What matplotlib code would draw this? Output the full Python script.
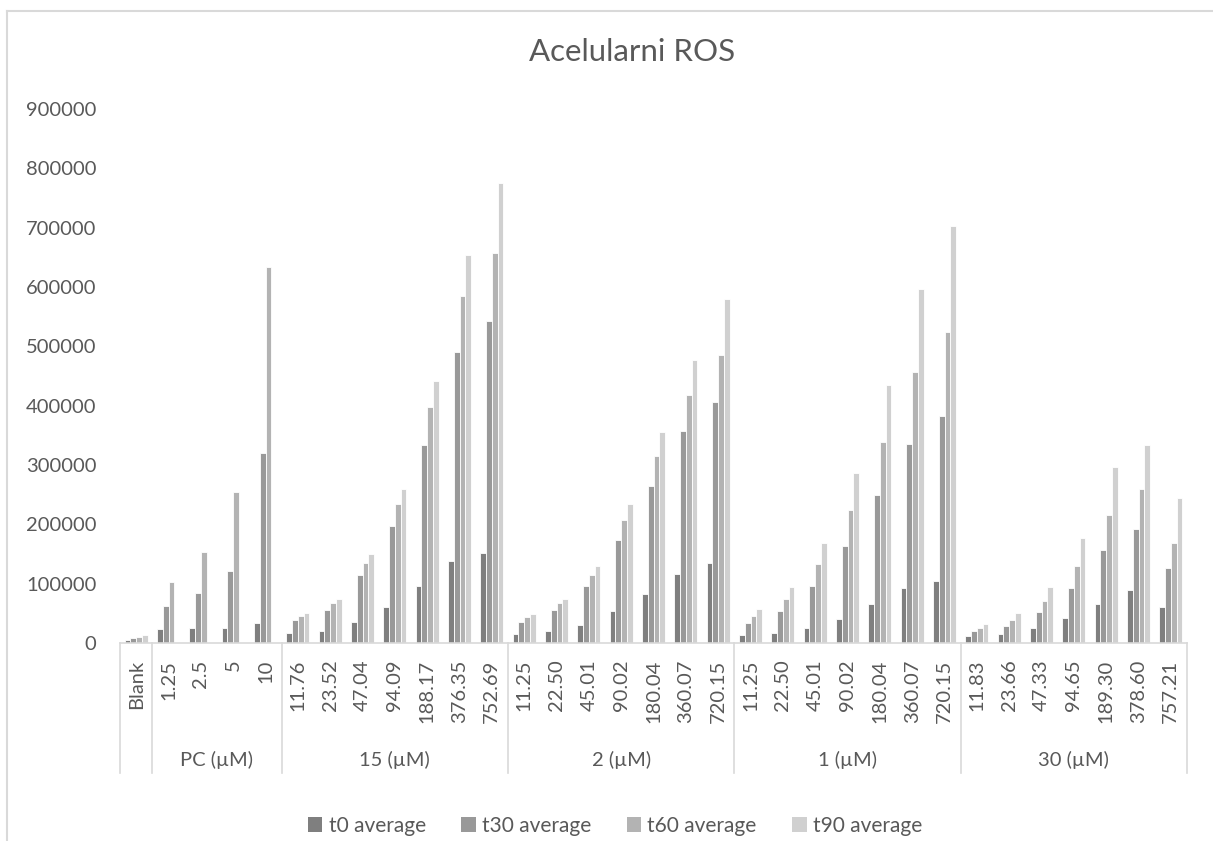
import numpy as np
import matplotlib
matplotlib.use("Agg")
import matplotlib.pyplot as plt
from matplotlib.lines import Line2D
from matplotlib.patches import Patch
import matplotlib.transforms as mtransforms

plt.rcParams['font.family'] = ['Lato', 'DejaVu Sans']

# ---------------- data ----------------
groups = ["", "PC (\u00b5M)", "15 (\u00b5M)", "2 (\u00b5M)", "1 (\u00b5M)", "30 (\u00b5M)"]
group_sizes = [1, 4, 7, 7, 7, 7]
categories = ["Blank",
              "1.25", "2.5", "5", "10",
              "11.76", "23.52", "47.04", "94.09", "188.17", "376.35", "752.69",
              "11.25", "22.50", "45.01", "90.02", "180.04", "360.07", "720.15",
              "11.25", "22.50", "45.01", "90.02", "180.04", "360.07", "720.15",
              "11.83", "23.66", "47.33", "94.65", "189.30", "378.60", "757.21"]
series_names = ["t0 average", "t30 average", "t60 average", "t90 average"]
t0 = [5000,
      23000, 25000, 25000, 34000,
      17000, 20000, 36000, 60000, 96000, 138000, 151000,
      16000, 21000, 31000, 54000, 82000, 117000, 134000,
      13000, 17000, 26000, 41000, 65000, 93000, 104000,
      12000, 16000, 25000, 42000, 66000, 90000, 60000]
t30 = [8000,
       62000, 84000, 121000, 320000,
       38000, 56000, 114000, 198000, 333000, 490000, 543000,
       36000, 55000, 96000, 174000, 265000, 357000, 407000,
       34000, 54000, 96000, 163000, 249000, 335000, 383000,
       20000, 28000, 52000, 93000, 156000, 192000, 126000]
t60 = [10000,
       103000, 154000, 255000, 633000,
       45000, 67000, 134000, 235000, 398000, 585000, 657000,
       43000, 67000, 115000, 208000, 315000, 418000, 486000,
       46000, 75000, 133000, 224000, 338000, 457000, 524000,
       25000, 38000, 71000, 129000, 216000, 259000, 168000]
t90 = [13000,
       np.nan, np.nan, np.nan, np.nan,
       50000, 75000, 150000, 260000, 442000, 654000, 775000,
       49000, 75000, 129000, 234000, 356000, 477000, 580000,
       58000, 94000, 169000, 286000, 435000, 597000, 703000,
       32000, 50000, 95000, 177000, 296000, 333000, 245000]
title = "Acelularni ROS"

# ---------------- style ----------------
colors = ["#7f7f7f", "#999999", "#b3b3b3", "#d0d0d0"]
text_color = "#595959"
line_color = "#d9d9d9"

W, H = 1213, 841
fig = plt.figure(figsize=(W / 100, H / 100), dpi=100)
ax_left, ax_right, ax_bot, ax_top = 120, 1187, 643, 109
ax = fig.add_axes([ax_left / W, 1 - ax_bot / H, (ax_right - ax_left) / W, (ax_bot - ax_top) / H])

n = len(categories)
x = np.arange(n)
cluster = 0.72
bw = cluster / 4
for i, (vals, c) in enumerate(zip([t0, t30, t60, t90], colors)):
    ax.bar(x - cluster / 2 + bw * (i + 0.5), np.array(vals, dtype=float), width=bw,
           color=c, edgecolor="white", linewidth=0.6, label=series_names[i])

ax.set_xlim(-0.5, n - 0.5)
ax.set_ylim(0, 900000)
ax.set_yticks(np.arange(0, 900001, 100000))
ax.set_yticklabels([str(v) for v in range(0, 900001, 100000)])
ax.tick_params(axis='y', length=0, pad=17, labelsize=14.5, labelcolor=text_color)
ax.set_xticks(x)
ax.set_xticklabels(categories, rotation=90)
ax.tick_params(axis='x', length=0, pad=12, labelsize=14.5, labelcolor=text_color)

for s in ["left", "right", "top"]:
    ax.spines[s].set_visible(False)
ax.spines["bottom"].set_color(line_color)
ax.spines["bottom"].set_linewidth(1.2)

# multi-level category separators and group labels
trans = mtransforms.blended_transform_factory(ax.transData, ax.transAxes)
sep_bottom = (ax_bot - 773) / (ax_bot - ax_top)
label_y = (ax_bot - 760) / (ax_bot - ax_top)
edges = np.concatenate([[0], np.cumsum(group_sizes)]) - 0.5
for e in edges:
    ax.add_line(Line2D([e, e], [0, sep_bottom], transform=trans, color=line_color,
                       linewidth=1.2, clip_on=False))
for g, a, b in zip(groups, edges[:-1], edges[1:]):
    if g:
        ax.text((a + b) / 2, label_y, g, transform=trans, ha='center', va='center',
                fontsize=14.5, color=text_color)

fig.text(632 / W, 1 - 52 / H, title, ha='center', va='center', fontsize=22.5, color=text_color)

handles = [Patch(facecolor=c, edgecolor='none') for c in colors]
fig.legend(handles, series_names, loc='center', bbox_to_anchor=(615 / W, 1 - 826 / H),
           ncol=4, frameon=False, fontsize=15, labelcolor=text_color,
           handlelength=0.7, handleheight=0.7, handletextpad=0.3, columnspacing=1.7)

# chart border
fig.add_artist(Line2D([7 / W, 7 / W], [0, 1 - 11 / H], color=line_color, linewidth=1.5,
                      transform=fig.transFigure))
fig.add_artist(Line2D([7 / W, 1], [1 - 11 / H, 1 - 11 / H], color=line_color, linewidth=1.5,
                      transform=fig.transFigure))

fig.savefig("out.png", dpi=100, facecolor="white")
